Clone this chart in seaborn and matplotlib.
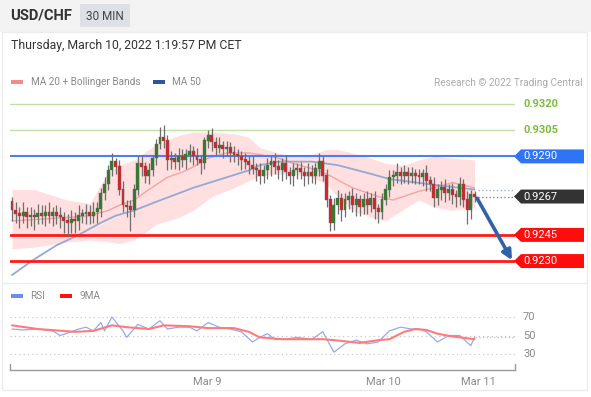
import numpy as np
import pandas as pd
import matplotlib
matplotlib.use("Agg")
import matplotlib.pyplot as plt
from matplotlib.patches import Polygon, Rectangle
import seaborn as sns

sns.set_style("white")
plt.rcParams["font.family"] = ["Roboto", "DejaVu Sans"]

# ---- data (30 min USD/CHF candles) ----
FIRST_OPEN = 0.9264
CLOSES = [
    0.9259, 0.9257, 0.9256, 0.9258, 0.9255, 0.9256, 0.9255, 0.9257, 0.9256, 0.9258, 0.9256, 0.9258,
    0.9256, 0.9255, 0.9253, 0.9252, 0.9254, 0.9253, 0.9256, 0.9257, 0.9258, 0.9256, 0.9258, 0.9260,
    0.9269, 0.9274, 0.9282, 0.9287, 0.9284, 0.9271, 0.9262, 0.9261, 0.9259, 0.9271, 0.9286, 0.9284,
    0.9279, 0.9282, 0.9289, 0.9297, 0.9301, 0.9299, 0.9288, 0.9289, 0.9287, 0.9290, 0.9288, 0.9291,
    0.9293, 0.9290, 0.9288, 0.9286, 0.9299, 0.9302, 0.9298, 0.9295, 0.9296, 0.9294, 0.9295, 0.9292,
    0.9291, 0.9290, 0.9288, 0.9287, 0.9285, 0.9283, 0.9282, 0.9279, 0.9282, 0.9285, 0.9287, 0.9284,
    0.9282, 0.9286, 0.9281, 0.9279, 0.9282, 0.9283, 0.9281, 0.9279, 0.9281, 0.9279, 0.9283, 0.9287,
    0.9279, 0.9265, 0.9252, 0.9262, 0.9266, 0.9259, 0.9265, 0.9267, 0.9262, 0.9265, 0.9261, 0.9265,
    0.9262, 0.9266, 0.9260, 0.9258, 0.9265, 0.9271, 0.9278, 0.9279, 0.9281, 0.9279, 0.9281, 0.9279,
    0.9280, 0.9279, 0.9278, 0.9280, 0.9276, 0.9274, 0.9266, 0.9271, 0.9272, 0.9269, 0.9271, 0.9268,
    0.9267, 0.9274, 0.9265, 0.9259, 0.9268, 0.9267,
]
# wick length beyond the body, in pips
UP_WICK = [
    3, 5, 4, 6, 3, 5, 4, 6, 5, 4, 6, 3, 4, 5, 3, 4, 5, 4, 6, 3, 5, 4, 6, 4,
    3, 4, 3, 5, 2, 4, 5, 3, 4, 3, 4, 5, 3, 4, 2, 3, 6, 7, 3, 4, 3, 5, 4, 3,
    4, 3, 5, 3, 2, 3, 4, 3, 5, 3, 4, 3, 4, 3, 3, 4, 3, 5, 3, 4, 3, 4, 3, 5,
    4, 3, 5, 3, 4, 3, 4, 3, 5, 4, 3, 5, 3, 4, 3, 4, 5, 3, 4, 3, 5, 4, 3, 4,
    5, 3, 4, 3, 4, 3, 4, 3, 5, 3, 4, 3, 4, 3, 4, 3, 5, 3, 4, 3, 4, 5, 3, 4,
    3, 4, 3, 5, 3, 2,
]
DN_WICK = [
    6, 5, 7, 4, 6, 5, 7, 4, 5, 6, 4, 6, 5, 6, 7, 8, 6, 7, 5, 4, 6, 5, 4, 6,
    5, 4, 3, 3, 4, 3, 4, 6, 12, 4, 3, 5, 4, 5, 3, 4, 3, 4, 6, 5, 4, 5, 4, 5,
    4, 5, 3, 6, 3, 4, 5, 4, 3, 5, 4, 5, 4, 5, 6, 4, 5, 3, 6, 5, 4, 5, 6, 4,
    5, 6, 4, 5, 6, 5, 4, 6, 5, 4, 5, 4, 3, 4, 5, 4, 5, 6, 4, 5, 4, 6, 5, 4,
    5, 4, 6, 6, 4, 3, 4, 5, 4, 5, 4, 5, 4, 5, 4, 5, 6, 4, 5, 4, 6, 5, 4, 5,
    6, 5, 4, 8, 5, 3,
]

BB_IDX = [0, 6, 15, 21, 26, 29, 33, 39, 45, 49, 54, 60, 64, 67, 72, 76, 81, 85, 88, 92,
          97, 101, 106, 110, 114, 119, 125]
BB_UP = [0.9271, 0.9271, 0.9265, 0.9263, 0.9281, 0.9285, 0.9288, 0.9297, 0.9302, 0.9304,
         0.9304, 0.9303, 0.9301, 0.9295, 0.9292, 0.9290, 0.9291, 0.9294, 0.9294, 0.9292,
         0.9289, 0.9286, 0.9285, 0.9288, 0.9290, 0.9289, 0.9288]
BB_LO = [0.9237, 0.9238, 0.9241, 0.9242, 0.9241, 0.9240, 0.9242, 0.9251, 0.9255, 0.9259,
         0.9267, 0.9272, 0.9276, 0.9279, 0.9280, 0.9280, 0.9278, 0.9274, 0.9267, 0.9259,
         0.9255, 0.9253, 0.9260, 0.9265, 0.9261, 0.9259, 0.9261]

MA20_IDX = [0, 15, 21, 26, 29, 33, 37, 42, 46, 49, 53, 58, 64, 67, 72, 76, 81, 85, 92,
            99, 103, 110, 114, 119, 125]
MA20 = [0.9253, 0.9255, 0.9256, 0.9259, 0.9262, 0.9265, 0.9271, 0.9278, 0.9281, 0.9284,
        0.9289, 0.9292, 0.9292, 0.9291, 0.9289, 0.9286, 0.9283, 0.9280, 0.9272, 0.9267,
        0.9265, 0.9270, 0.9272, 0.9275, 0.9272]

MA50_IDX = [0, 6, 12, 18, 24, 28, 33, 39, 49, 58, 64, 67, 72, 81, 88, 97, 102, 113, 125]
MA50 = [0.9222, 0.9231, 0.9239, 0.9245, 0.9252, 0.9256, 0.9259, 0.9264, 0.9272, 0.9278,
        0.9282, 0.9285, 0.9287, 0.9287, 0.9285, 0.9280, 0.9277, 0.9274, 0.9271]

RSI_IDX = [0, 3, 7, 11, 13, 16, 18, 20, 22, 24, 25, 27, 30, 31, 34, 37, 40, 42, 45, 48,
           50, 53, 56, 59, 62, 65, 67, 69, 71, 74, 77, 81, 84, 87, 90, 93, 96, 99, 102,
           105, 108, 110, 112, 115, 118, 121, 124, 125]
RSI = [57, 56, 57, 55, 50, 54, 57, 59, 55, 64, 55, 70, 55, 48, 62, 57, 66, 57, 59, 59,
       55, 64, 59, 57, 54, 43, 48, 52, 46, 46, 48, 46, 54, 32, 41, 45, 41, 43, 55,
       59, 57, 57, 54, 43, 50, 50, 39, 48]
RSI_MA_IDX = [0, 7, 17, 22, 27, 31, 37, 41, 48, 53, 60, 64, 67, 73, 84, 87, 94, 99, 102,
              106, 109, 112, 115, 119, 125]
RSI_MA = [61, 57, 54, 55, 61, 59, 57, 61, 60, 58, 58, 54, 48, 46, 46, 45, 42, 45, 46,
          54, 57, 56, 52, 49, 46]

RESIST = [0.9320, 0.9305, 0.9290]
SUPPORT = [0.9245, 0.9230]
LAST = 0.9267
TARGET = 0.9230
DATE_TICKS = [52.7, 100.3, 126.0]
DATE_LABELS = ["Mar 9", "Mar 10", "Mar 11"]

W, H = 591, 397
PX = 3.7          # pixels per candle
X0 = 12           # pixel of first candle


def px2idx(px):
    return (px - X0) / PX


def fig_rect(left, top, right, bottom):
    return [left / W, 1 - bottom / H, (right - left) / W, (bottom - top) / H]


fig = plt.figure(figsize=(W / 100, H / 100), dpi=100)
fig.patch.set_facecolor("white")

# ---- overlay for header, legends and frame ----
bg = fig.add_axes([0, 0, 1, 1], zorder=0)
bg.set_xlim(0, W)
bg.set_ylim(H, 0)
bg.axis("off")
bg.add_patch(Rectangle((0, 0), W, 32, color="#f3f3f3", lw=0))
bg.add_patch(Rectangle((80, 4), 50, 23, color="#dde1e6", lw=0))
bg.text(10, 16, "USD/CHF", fontsize=10.6, fontweight="bold", color="#333333", va="center")
bg.text(105, 16, "30 MIN", fontsize=8.5, color="#444444", va="center", ha="center")
bg.text(11, 45, "Thursday, March 10, 2022 1:19:57 PM CET", fontsize=8.8, color="#333333",
        va="center")
bg.add_patch(Rectangle((11, 80), 12, 4, color="#f48a8a", lw=0))
bg.text(31, 82, "MA 20 + Bollinger Bands", fontsize=7.2, color="#8a8a8a", va="center")
bg.add_patch(Rectangle((153, 80), 12, 4, color="#2d55a0", lw=0))
bg.text(172, 82, "MA 50", fontsize=7.2, color="#8a8a8a", va="center")
bg.text(583, 83, "Research © 2022 Trading Central", fontsize=7.2, color="#ababab",
        va="center", ha="right")
bg.add_patch(Rectangle((11, 294), 12, 4, color="#6b8cf0", lw=0))
bg.text(30, 296, "RSI", fontsize=7.2, color="#8a8a8a", va="center")
bg.add_patch(Rectangle((60, 294), 12, 4, color="#ff1010", lw=0))
bg.text(80, 296, "9MA", fontsize=7.2, color="#8a8a8a", va="center")
bg.plot([2, 587, 587, 2, 2], [32, 32, 390, 390, 32], color="#ececec", lw=1)
bg.plot([2, 587], [283, 283], color="#ececec", lw=1)

# ---- main price panel ----
ax = fig.add_axes(fig_rect(10, 95, 515, 282), zorder=2)
ax.set_facecolor("none")
ax.set_xlim(px2idx(10), px2idx(515))
ax.set_ylim(0.92180, 0.93252)
ax.axis("off")

idx = np.arange(len(CLOSES))
opens = [FIRST_OPEN] + CLOSES[:-1]
candles = pd.DataFrame({"i": idx, "open": opens, "close": CLOSES})
candles["top"] = candles[["open", "close"]].max(axis=1)
candles["bot"] = candles[["open", "close"]].min(axis=1)
candles["high"] = candles["top"] + np.array(UP_WICK) * 0.0001
candles["low"] = candles["bot"] - np.array(DN_WICK) * 0.0001
candles["color"] = np.where(candles["close"] >= candles["open"], "#2f7d2a", "#d8202a")

ax.fill_between(BB_IDX, BB_LO, BB_UP, color="#ffdada", alpha=0.85, lw=0, zorder=1)
sns.lineplot(x=MA20_IDX, y=MA20, ax=ax, color="#f5a3a3", lw=1.0, zorder=2)
sns.lineplot(x=MA50_IDX, y=MA50, ax=ax, color="#93a9d6", lw=1.3, zorder=2)

for lvl in RESIST[:2]:
    ax.axhline(lvl, color="#bfe0a6", lw=1.0, zorder=3)
ax.axhline(RESIST[2], color="#4a80f2", lw=1.5, zorder=3)
for lvl in SUPPORT:
    ax.axhline(lvl, color="#ff1a1a", lw=2.0, zorder=3)

ax.vlines(candles["i"], candles["low"], candles["high"], color="#6f6f6f", lw=0.9, zorder=4)
ax.bar(candles["i"], candles["top"] - candles["bot"] + 0.00003, bottom=candles["bot"],
       width=0.78, color=candles["color"], edgecolor="#666666", lw=0.3, zorder=5)

ax.hlines([MA50[-1], LAST], len(CLOSES), px2idx(515), colors=["#9fb0d0", "#888888"],
          linestyles=":", lw=1.0, zorder=3)
ax.annotate("", xy=(px2idx(512), TARGET + 0.00005), xytext=(len(CLOSES) - 0.3, LAST - 0.0001),
            arrowprops=dict(arrowstyle="-|>", color="#2f62a8", lw=2.6, mutation_scale=14,
                            shrinkA=0, shrinkB=0), zorder=6)

# price tags on the right
half = 0.0004
tip, start, end = px2idx(514), px2idx(521), px2idx(584)
for lvl in RESIST[:2]:
    ax.text(px2idx(523), lvl, f"{lvl:.4f}", color="#7dbd3e", fontsize=8, fontweight="bold",
            va="center", clip_on=False)
for lvl, col in [(RESIST[2], "#2f74f5"), (LAST, "#333333"),
                 (SUPPORT[0], "#ff0d0d"), (SUPPORT[1], "#ff0d0d")]:
    ax.add_patch(Polygon([(tip, lvl), (start, lvl + half), (end, lvl + half),
                          (end, lvl - half), (start, lvl - half)],
                         closed=True, color=col, lw=0, clip_on=False, zorder=6))
    ax.text(px2idx(523), lvl, f"{lvl:.4f}", color="white", fontsize=8,
            va="center", clip_on=False, zorder=7)

# ---- RSI panel ----
rx = fig.add_axes(fig_rect(10, 300, 515, 370), zorder=2)
rx.set_facecolor("none")
rx.set_xlim(px2idx(10), px2idx(515))
rx.set_ylim(12.7, 88.4)
for lvl in [70, 50, 30]:
    rx.axhline(lvl, color="#c8c8c8", lw=0.9, ls=(0, (1, 2.5)), zorder=1)
    rx.text(px2idx(523), lvl, str(lvl), color="#8a8a8a", fontsize=8, va="center",
            clip_on=False)
sns.lineplot(x=RSI_IDX, y=RSI, ax=rx, color="#94aaf2", lw=0.9, zorder=3)
sns.lineplot(x=RSI_MA_IDX, y=RSI_MA, ax=rx, color="#ff7a7a", lw=1.5, zorder=4)
rx.hlines(RSI[-1], RSI_IDX[-1], px2idx(515), colors="#b5c5f5", linestyles=":", lw=1.0)
for s in ["top", "left", "right"]:
    rx.spines[s].set_visible(False)
rx.spines["bottom"].set_color("#9a9a9a")
rx.spines["bottom"].set_linewidth(1.0)
rx.plot([0, 0], [0, 0.08], transform=rx.transAxes, color="#9a9a9a", lw=1.0, clip_on=False)
rx.plot([1, 1], [0, 0.08], transform=rx.transAxes, color="#9a9a9a", lw=1.0, clip_on=False)
rx.set_yticks([])
rx.set_xticks(DATE_TICKS)
rx.set_xticklabels(DATE_LABELS, fontsize=8, color="#8a8a8a")
rx.tick_params(axis="x", length=0, pad=5)
rx.set_xlabel("")
rx.set_ylabel("")

fig.savefig("out.png", dpi=100)
